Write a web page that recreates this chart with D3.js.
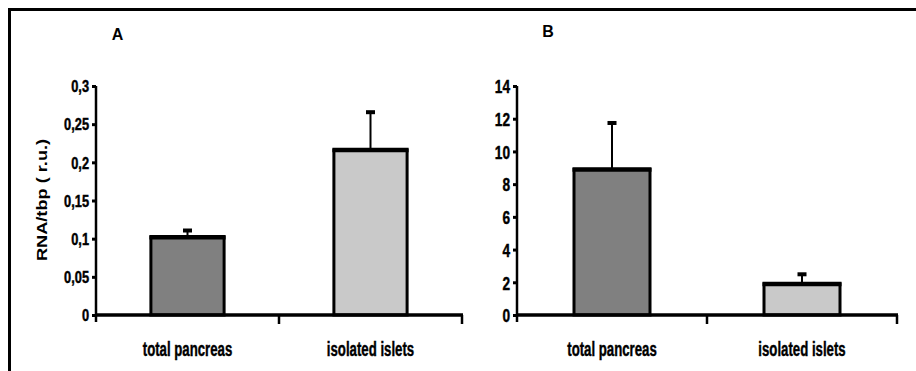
<!DOCTYPE html>
<html><head><meta charset="utf-8">
<script src="https://cdn.jsdelivr.net/npm/d3@7"></script>
<style>
body{margin:0;background:#fff;}
svg{display:block;}
text{font-family:"Liberation Sans",Arial,sans-serif;font-weight:bold;fill:#000;}
text.heavy{stroke:#000;stroke-width:0.45px;}
</style></head>
<body>
<svg id="c" width="916" height="371"></svg>
<script>
const categories = ["total pancreas", "isolated islets"];
const valuesA = [0.102, 0.216];
const errorsA = [0.010, 0.051];
const ticksA = [0, 0.05, 0.1, 0.15, 0.2, 0.25, 0.3];
const valuesB = [8.9, 1.9];
const errorsB = [2.9, 0.65];
const ticksB = [0, 2, 4, 6, 8, 10, 12, 14];
const fills = ["#808080", "#c9c9c9"];
const panelLabels = ["A", "B"];
const yTitle = "RNA/tbp ( r.u.)";

const svg = d3.select("#c");
const loc = d3.formatLocale({decimal: ",", thousands: ".", grouping: [3], currency: ["", ""]});
const fmt = v => loc.format("~g")(v);

// frame
svg.append("line").attr("x1", 9.5).attr("x2", 916).attr("y1", 9.5).attr("y2", 9.5).attr("stroke", "#000").attr("stroke-width", 3);
svg.append("line").attr("x1", 9.5).attr("x2", 9.5).attr("y1", 8).attr("y2", 371).attr("stroke", "#000").attr("stroke-width", 3);

const panels = [
  {vals: valuesA, errs: errorsA, ticks: ticksA, dom: [0, 0.3], x0: 96, x1: 462, y0: 315, y1: 86, label: panelLabels[0], lx: 117.5, ly: 40, tfs: 16, tsx: 0.8},
  {vals: valuesB, errs: errorsB, ticks: ticksB, dom: [0, 14], x0: 517, x1: 897, y0: 315, y1: 86, label: panelLabels[1], lx: 548, ly: 37, tfs: 19, tsx: 0.72}
];

panels.forEach(p => {
  const y = d3.scaleLinear().domain(p.dom).range([p.y0, p.y1]);
  const x = d3.scaleBand().domain(categories).range([p.x0, p.x1]).paddingInner(0.6).paddingOuter(0.3);
  const g = svg.append("g");

  // bars
  g.selectAll("rect.bar").data(p.vals).join("rect")
    .attr("x", (d, i) => x(categories[i]))
    .attr("y", d => y(d))
    .attr("width", x.bandwidth())
    .attr("height", d => y(0) - y(d))
    .attr("fill", (d, i) => fills[i])
    .attr("stroke", "#000").attr("stroke-width", 3);
  g.selectAll("line.top").data(p.vals).join("line")
    .attr("x1", (d, i) => x(categories[i]) - 1.5)
    .attr("x2", (d, i) => x(categories[i]) + x.bandwidth() + 1.5)
    .attr("y1", d => y(d)).attr("y2", d => y(d))
    .attr("stroke", "#000").attr("stroke-width", 4.5);

  // error bars
  p.vals.forEach((v, i) => {
    const cx = x(categories[i]) + x.bandwidth() / 2;
    g.append("line").attr("x1", cx).attr("x2", cx).attr("y1", y(v)).attr("y2", y(v + p.errs[i]))
      .attr("stroke", "#000").attr("stroke-width", 2);
    g.append("rect").attr("x", cx - 4.5).attr("y", y(v + p.errs[i]) - 1).attr("width", 9).attr("height", 4).attr("fill", "#000");
  });

  // y axis
  const ya = d3.axisLeft(y).tickValues(p.ticks).tickFormat(fmt).tickSize(4).tickPadding(3);
  const gy = svg.append("g").attr("transform", `translate(${p.x0},0)`).call(ya);
  gy.attr("font-family", null).attr("font-size", null);
  gy.select(".domain").remove();
  gy.selectAll(".tick line").attr("stroke-width", 3);
  gy.selectAll(".tick text")
    .attr("class", "heavy")
    .attr("font-size", p.tfs)
    .attr("x", -7 / p.tsx)
    .attr("dy", "0.36em")
    .attr("transform", `scale(${p.tsx},1)`);
  svg.append("line").attr("x1", p.x0).attr("x2", p.x0).attr("y1", p.y1).attr("y2", p.y0 + 7).attr("stroke", "#000").attr("stroke-width", 2.5);

  // x axis
  svg.append("line").attr("x1", p.x0).attr("x2", p.x1 + 1).attr("y1", p.y0).attr("y2", p.y0).attr("stroke", "#000").attr("stroke-width", 3.5);
  const bounds = [p.x0 + (p.x1 - p.x0) / 2, p.x1];
  bounds.forEach(bx => svg.append("line").attr("x1", bx).attr("x2", bx).attr("y1", p.y0).attr("y2", p.y0 + 9).attr("stroke", "#000").attr("stroke-width", 2.5));

  categories.forEach(c => {
    svg.append("text").attr("class", "heavy")
      .attr("transform", `translate(${x(c) + x.bandwidth() / 2},356) scale(0.66,1)`)
      .attr("text-anchor", "middle").attr("font-size", 20).text(c);
  });

  svg.append("text").attr("x", p.lx).attr("y", p.ly).attr("text-anchor", "middle")
    .attr("font-size", 16).text(p.label);
});

svg.append("text").attr("transform", "translate(47,200) rotate(-90) scale(1.3,1)").attr("text-anchor", "middle")
  .attr("font-size", 14).text(yTitle);
</script>
</body></html>
